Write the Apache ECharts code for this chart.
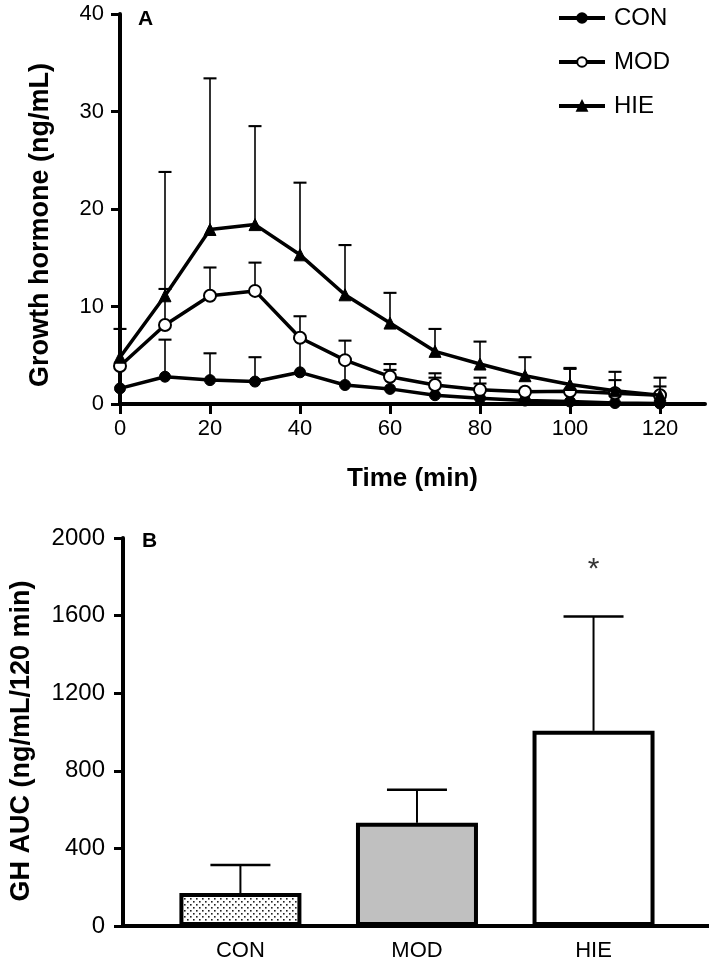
<!DOCTYPE html>
<html><head><meta charset="utf-8">
<script src="https://cdn.jsdelivr.net/npm/echarts@6/dist/echarts.min.js"></script>
<style>html,body{margin:0;padding:0;background:#fff}#c{width:709px;height:968px}</style>
</head><body><div id="c"></div>
<script>
// ---- Panel A data ----
const times = [0, 10, 20, 30, 40, 50, 60, 70, 80, 90, 100, 110, 120];
const conMean  = [1.6, 2.8, 2.45, 2.3, 3.25, 1.95, 1.55, 0.9, 0.6, 0.35, 0.25, 0.1, 0.05];
const conUpper = [null, 6.6, 5.2, 4.8, 6.7, 4.4, 3.5, 2.7, 2.1, null, null, null, null];
const modMean  = [3.9, 8.1, 11.1, 11.6, 6.8, 4.5, 2.8, 1.95, 1.45, 1.25, 1.3, 1.1, 0.9];
const modUpper = [null, 11.8, 14.0, 14.5, 9.0, 6.5, 4.1, 3.15, 2.7, null, 3.7, 2.45, 1.8];
const hieMean  = [4.8, 11.1, 17.9, 18.4, 15.3, 11.2, 8.3, 5.4, 4.1, 2.9, 2.0, 1.35, 0.9];
const hieUpper = [7.7, 23.8, 33.4, 28.5, 22.7, 16.3, 11.4, 7.7, 6.4, 4.8, 3.6, 3.3, 2.7];
const xTicksA = [0, 20, 40, 60, 80, 100, 120];
const yTicksA = [0, 10, 20, 30, 40];
const seriesNames = ['CON', 'MOD', 'HIE'];

// ---- Panel B data ----
const groups = ['CON', 'MOD', 'HIE'];
const aucMean  = [170, 532, 1006];
const aucUpper = [315, 702, 1595];
const aucSig   = ['', '', '*'];
const yTicksB = [0, 400, 800, 1200, 1600, 2000];

const FONT = '"Liberation Sans", Arial, Helvetica, sans-serif';

function pts(mean) { return times.map((t, i) => [t, mean[i]]); }
function errPts(mean, upper) {
  return times.map((t, i) => [t, mean[i], upper[i]]).filter(d => d[2] != null);
}
function errRender(capW, lw) {
  return function (params, api) {
    const x = api.value(0), y = api.value(1), u = api.value(2);
    const p0 = api.coord([x, y]), p1 = api.coord([x, u]);
    return {
      type: 'group', children: [
        { type: 'line', shape: { x1: p0[0], y1: p0[1], x2: p1[0], y2: p1[1] }, style: { stroke: '#000', lineWidth: lw } },
        { type: 'line', shape: { x1: p1[0] - capW / 2, y1: p1[1], x2: p1[0] + capW / 2, y2: p1[1] }, style: { stroke: '#000', lineWidth: lw + 0.5 } }
      ]
    };
  };
}

// stipple pattern for CON bar
const pat = document.createElement('canvas');
pat.width = 6; pat.height = 6;
const pc = pat.getContext('2d');
pc.fillStyle = '#fff'; pc.fillRect(0, 0, 6, 6);
pc.fillStyle = '#222';
pc.fillRect(1, 1, 1.6, 1.6);
pc.fillRect(4, 4, 1.6, 1.6);
const barFills = [{ image: pat, repeat: 'repeat' }, '#c0c0c0', '#ffffff'];

const chart = echarts.init(document.getElementById('c'), null, { renderer: 'canvas' });

const axisLine = { show: true, onZero: false, lineStyle: { color: '#000', width: 4 } };
const plain = v => String(v);

const option = {
  animation: false,
  backgroundColor: '#fff',
  textStyle: { fontFamily: FONT, color: '#000' },
  graphic: [
    { type: 'text', left: 138, top: 9, style: { text: 'A', font: 'bold 21px ' + FONT, fill: '#000' } },
    { type: 'text', left: 142, top: 531, style: { text: 'B', font: 'bold 21px ' + FONT, fill: '#000' } }
  ],
  legend: {
    data: seriesNames,
    orient: 'vertical',
    left: 552, top: 1,
    itemWidth: 46, itemHeight: 12, itemGap: 20,
    lineStyle: { width: 4, color: '#000' },
    textStyle: { fontSize: 24, color: '#000', fontFamily: FONT, padding: [0, 0, 0, 4] },
    selectedMode: false
  },
  grid: [
    { left: 120, top: 14, width: 585, height: 390 },
    { left: 120, top: 538, right: 0, height: 388 }
  ],
  xAxis: [
    {
      gridIndex: 0, type: 'value', min: 0, max: 130,
      name: 'Time (min)', nameLocation: 'middle', nameGap: 62,
      nameTextStyle: { fontSize: 26, fontWeight: 'bold', color: '#000', fontFamily: FONT },
      axisLine: axisLine,
      axisTick: { show: true, customValues: xTicksA, length: 10, lineStyle: { color: '#000', width: 3 } },
      axisLabel: { customValues: xTicksA, formatter: plain, fontSize: 22, color: '#000', margin: 14, fontFamily: FONT },
      splitLine: { show: false }
    },
    {
      gridIndex: 1, type: 'value', min: -0.665, max: 2.654,
      axisLine: axisLine,
      axisTick: { show: false },
      axisLabel: { customValues: [0, 1, 2], formatter: v => groups[Math.round(v)], fontSize: 22, color: '#000', margin: 14, fontFamily: FONT },
      splitLine: { show: false }
    }
  ],
  yAxis: [
    {
      gridIndex: 0, type: 'value', min: 0, max: 40, interval: 10,
      name: 'Growth hormone (ng/mL)', nameLocation: 'middle', nameGap: 66, nameRotate: 90,
      nameTextStyle: { fontSize: 27, fontWeight: 'bold', color: '#000', fontFamily: FONT, padding: [0, 32, 0, 0] },
      axisLine: axisLine,
      axisTick: { show: true, customValues: yTicksA, length: 9, lineStyle: { color: '#000', width: 3 } },
      axisLabel: { customValues: yTicksA, formatter: plain, fontSize: 22, color: '#000', margin: 16, fontFamily: FONT },
      splitLine: { show: false }
    },
    {
      gridIndex: 1, type: 'value', min: 0, max: 2000, interval: 400,
      name: 'GH AUC (ng/mL/120 min)', nameLocation: 'middle', nameGap: 88, nameRotate: 90,
      nameTextStyle: { fontSize: 27, fontWeight: 'bold', color: '#000', fontFamily: FONT, padding: [0, 18, 0, 0] },
      axisLine: axisLine,
      axisTick: { show: true, customValues: yTicksB, length: 9, lineStyle: { color: '#000', width: 3 } },
      axisLabel: { customValues: yTicksB, formatter: plain, fontSize: 24, color: '#000', margin: 18, fontFamily: FONT },
      splitLine: { show: false }
    }
  ],
  series: [
    // error bars panel A
    { type: 'custom', xAxisIndex: 0, yAxisIndex: 0, z: 1, renderItem: errRender(13, 1.6), encode: { x: 0, y: [1, 2] }, data: errPts(conMean, conUpper) },
    { type: 'custom', xAxisIndex: 0, yAxisIndex: 0, z: 1, renderItem: errRender(13, 1.6), encode: { x: 0, y: [1, 2] }, data: errPts(modMean, modUpper) },
    { type: 'custom', xAxisIndex: 0, yAxisIndex: 0, z: 1, renderItem: errRender(13, 1.6), encode: { x: 0, y: [1, 2] }, data: errPts(hieMean, hieUpper) },
    // lines panel A
    {
      name: 'CON', type: 'line', xAxisIndex: 0, yAxisIndex: 0, z: 3, data: pts(conMean),
      symbol: 'circle', symbolSize: 11,
      lineStyle: { color: '#000', width: 3.5 }, itemStyle: { color: '#000', borderColor: '#000', borderWidth: 1 }
    },
    {
      name: 'MOD', type: 'line', xAxisIndex: 0, yAxisIndex: 0, z: 4, data: pts(modMean),
      symbol: 'circle', symbolSize: 12,
      lineStyle: { color: '#000', width: 3.5 }, itemStyle: { color: '#fff', borderColor: '#000', borderWidth: 2 }
    },
    {
      name: 'HIE', type: 'line', xAxisIndex: 0, yAxisIndex: 0, z: 5, data: pts(hieMean),
      symbol: 'triangle', symbolSize: 12,
      lineStyle: { color: '#000', width: 3.5 }, itemStyle: { color: '#000', borderColor: '#000', borderWidth: 1 }
    },
    // bars panel B
    {
      type: 'bar', xAxisIndex: 1, yAxisIndex: 1, z: 3, barWidth: 122,
      data: groups.map((g, i) => [i, aucMean[i]]),
      itemStyle: { color: p => barFills[p.dataIndex], borderColor: '#000', borderWidth: 4 }
    },
    {
      type: 'custom', xAxisIndex: 1, yAxisIndex: 1, z: 2, renderItem: errRender(60, 2), encode: { x: 0, y: [1, 2] },
      data: groups.map((g, i) => [i, aucMean[i], aucUpper[i]])
    },
    {
      type: 'scatter', xAxisIndex: 1, yAxisIndex: 1, z: 4, symbolSize: 0,
      data: groups.map((g, i) => [i, aucUpper[i], aucSig[i]]).filter(d => d[2]),
      label: { show: true, position: 'top', distance: 32, formatter: p => p.data[2], fontSize: 30, color: '#000', fontFamily: FONT }
    }
  ]
};
chart.setOption(option);
</script>
</body></html>
